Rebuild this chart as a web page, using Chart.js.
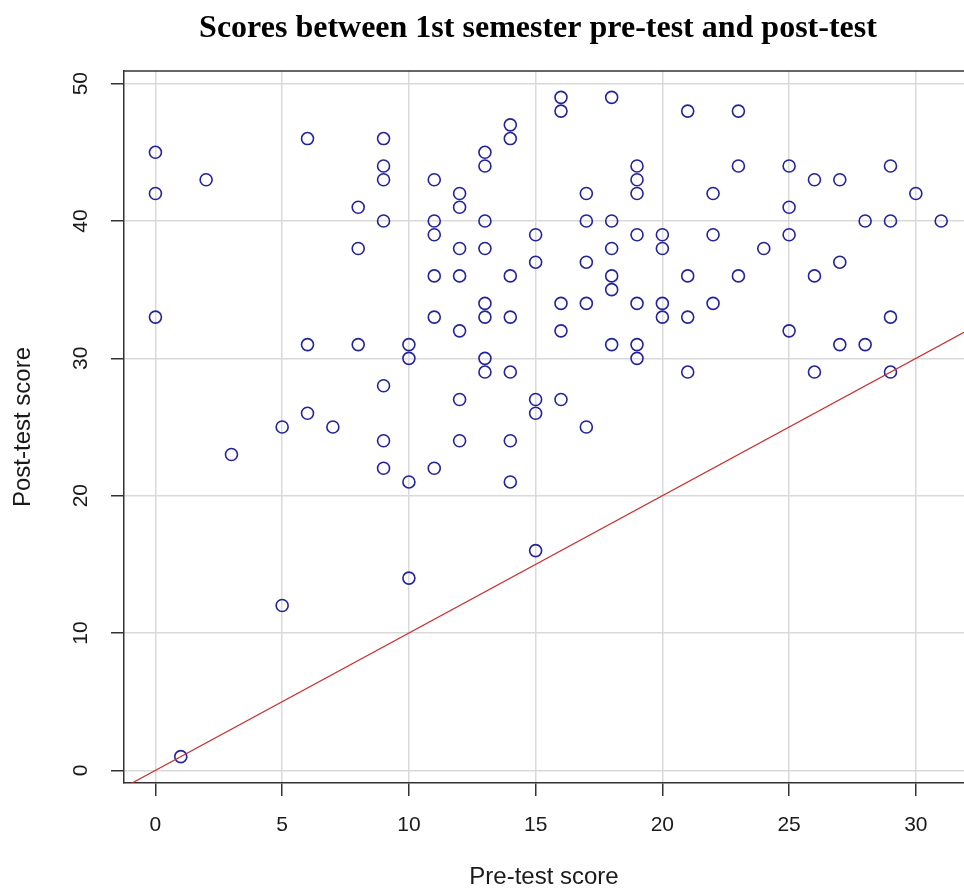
<!DOCTYPE html>
<html>
<head>
<meta charset="utf-8">
<title>Scores between 1st semester pre-test and post-test</title>
<script src="https://cdn.jsdelivr.net/npm/chart.js@4.4.1/dist/chart.umd.min.js"></script>
<style>
  html, body { margin: 0; padding: 0; background: #fff; overflow: hidden; }
  canvas { display: block; }
</style>
</head>
<body>
<canvas id="scoreChart" width="964" height="890"></canvas>
<script>
// data
const preTest = [
    0, 0, 0, 1, 2, 3, 5, 5, 6, 6, 6, 7, 8, 8, 8,
    9, 9, 9, 9, 9, 9, 9, 10, 10, 10, 10,
    11, 11, 11, 11, 11, 11, 12, 12, 12, 12, 12, 12, 12,
    13, 13, 13, 13, 13, 13, 13, 13, 14, 14, 14, 14, 14, 14, 14,
    15, 15, 15, 15, 15, 16, 16, 16, 16, 16, 17, 17, 17, 17, 17,
    18, 18, 18, 18, 18, 18, 19, 19, 19, 19, 19, 19, 19,
    20, 20, 20, 20, 21, 21, 21, 21, 22, 22, 22, 23, 23, 23, 24,
    25, 25, 25, 25, 26, 26, 26, 27, 27, 27, 28, 28, 29, 29, 29, 29, 30, 31
];
const postTest = [
    45, 42, 33, 1, 43, 23, 25, 12, 46, 31, 26, 25, 41, 38, 31,
    46, 44, 43, 40, 28, 24, 22, 31, 30, 21, 14,
    43, 40, 39, 36, 33, 22, 42, 41, 38, 36, 32, 27, 24,
    45, 44, 40, 38, 34, 33, 30, 29, 47, 46, 36, 33, 29, 24, 21,
    39, 37, 27, 26, 16, 49, 48, 34, 32, 27, 42, 40, 37, 34, 25,
    49, 40, 38, 36, 35, 31, 44, 43, 42, 39, 34, 31, 30,
    39, 38, 34, 33, 48, 36, 33, 29, 42, 39, 34, 48, 44, 36, 38,
    44, 41, 39, 32, 43, 36, 29, 43, 37, 31, 40, 31, 44, 40, 33, 29, 42, 40
];
const xTicks = [0, 5, 10, 15, 20, 25, 30];
const yTicks = [0, 10, 20, 30, 40, 50];
const xLimits = [-1.24, 31.9];
const yLimits = [-0.92, 50.92];

const titleText = "Scores between 1st semester pre-test and post-test";

const points = preTest.map((x, i) => ({ x: x, y: postTest[i] }));
// y = x reference line across the x range
const refLine = xLimits.map(v => ({ x: v, y: v }));

const axisFont = "'Liberation Sans', Arial, sans-serif";

// title, rotated y labels and the top edge of the box, R style
const extras = {
    id: "extras",
    afterDraw(chart) {
        const ctx = chart.ctx;
        const area = chart.chartArea;
        const yScale = chart.scales.y;
        ctx.save();
        ctx.fillStyle = "#000";
        ctx.font = "bold 32px 'Liberation Serif', 'Times New Roman', serif";
        ctx.textAlign = "center";
        ctx.textBaseline = "middle";
        ctx.fillText(titleText, 538, 29);

        ctx.fillStyle = "#1a1a1a";
        ctx.font = "21px " + axisFont;
        yTicks.forEach(v => {
            ctx.save();
            ctx.translate(81, yScale.getPixelForValue(v));
            ctx.rotate(-Math.PI / 2);
            ctx.fillText(String(v), 0, 0);
            ctx.restore();
        });

        ctx.strokeStyle = "#333";
        ctx.lineWidth = 1.5;
        ctx.beginPath();
        ctx.moveTo(area.left, area.top);
        ctx.lineTo(area.right, area.top);
        ctx.stroke();
        ctx.restore();
    }
};

const ctx = document.getElementById("scoreChart").getContext("2d");

new Chart(ctx, {
    type: "scatter",
    data: {
        datasets: [
            {
                type: "line",
                data: refLine,
                borderColor: "#c8302f",
                borderWidth: 1.2,
                pointRadius: 0,
                fill: false,
            },
            {
                data: points,
                pointStyle: "circle",
                pointRadius: 6,
                pointBorderWidth: 1.6,
                pointBorderColor: "#23239a",
                pointBackgroundColor: "rgba(0,0,0,0)",
            },
        ],
    },
    options: {
        responsive: false,
        animation: false,
        layout: {
            autoPadding: false,
            padding: { top: 71, left: 0, right: 0, bottom: 0 },
        },
        scales: {
            x: {
                type: "linear",
                min: xLimits[0],
                max: xLimits[1],
                afterBuildTicks: s => { s.ticks = xTicks.map(v => ({ value: v })); },
                afterFit: s => {
                    s.height = 107;
                    s.paddingLeft = 0;
                    s.paddingRight = 0;
                },
                grid: {
                    color: "#d9d9d9",
                    lineWidth: 1.5,
                    tickColor: "#333",
                    tickLength: 13,
                    tickWidth: 1.5,
                },
                border: { color: "#333", width: 1.5 },
                ticks: {
                    color: "#1a1a1a",
                    font: { family: axisFont, size: 21 },
                    padding: 17,
                    maxRotation: 0,
                },
                title: {
                    display: true,
                    text: "Pre-test score",
                    color: "#1a1a1a",
                    font: { family: axisFont, size: 24 },
                    padding: { top: 0, bottom: -2 },
                },
            },
            y: {
                type: "linear",
                min: yLimits[0],
                max: yLimits[1],
                afterBuildTicks: s => { s.ticks = yTicks.map(v => ({ value: v })); },
                afterFit: s => { s.width = 124; },
                grid: {
                    color: "#d9d9d9",
                    lineWidth: 1.5,
                    tickColor: "#333",
                    tickLength: 13,
                    tickWidth: 1.5,
                },
                border: { color: "#333", width: 1.5 },
                ticks: { display: false },
                title: {
                    display: true,
                    text: "Post-test score",
                    color: "#1a1a1a",
                    font: { family: axisFont, size: 24 },
                    padding: { top: 9, bottom: 0 },
                },
            },
        },
        plugins: {
            legend: { display: false },
            tooltip: { enabled: false },
        },
    },
    plugins: [extras],
});
</script>
</body>
</html>
